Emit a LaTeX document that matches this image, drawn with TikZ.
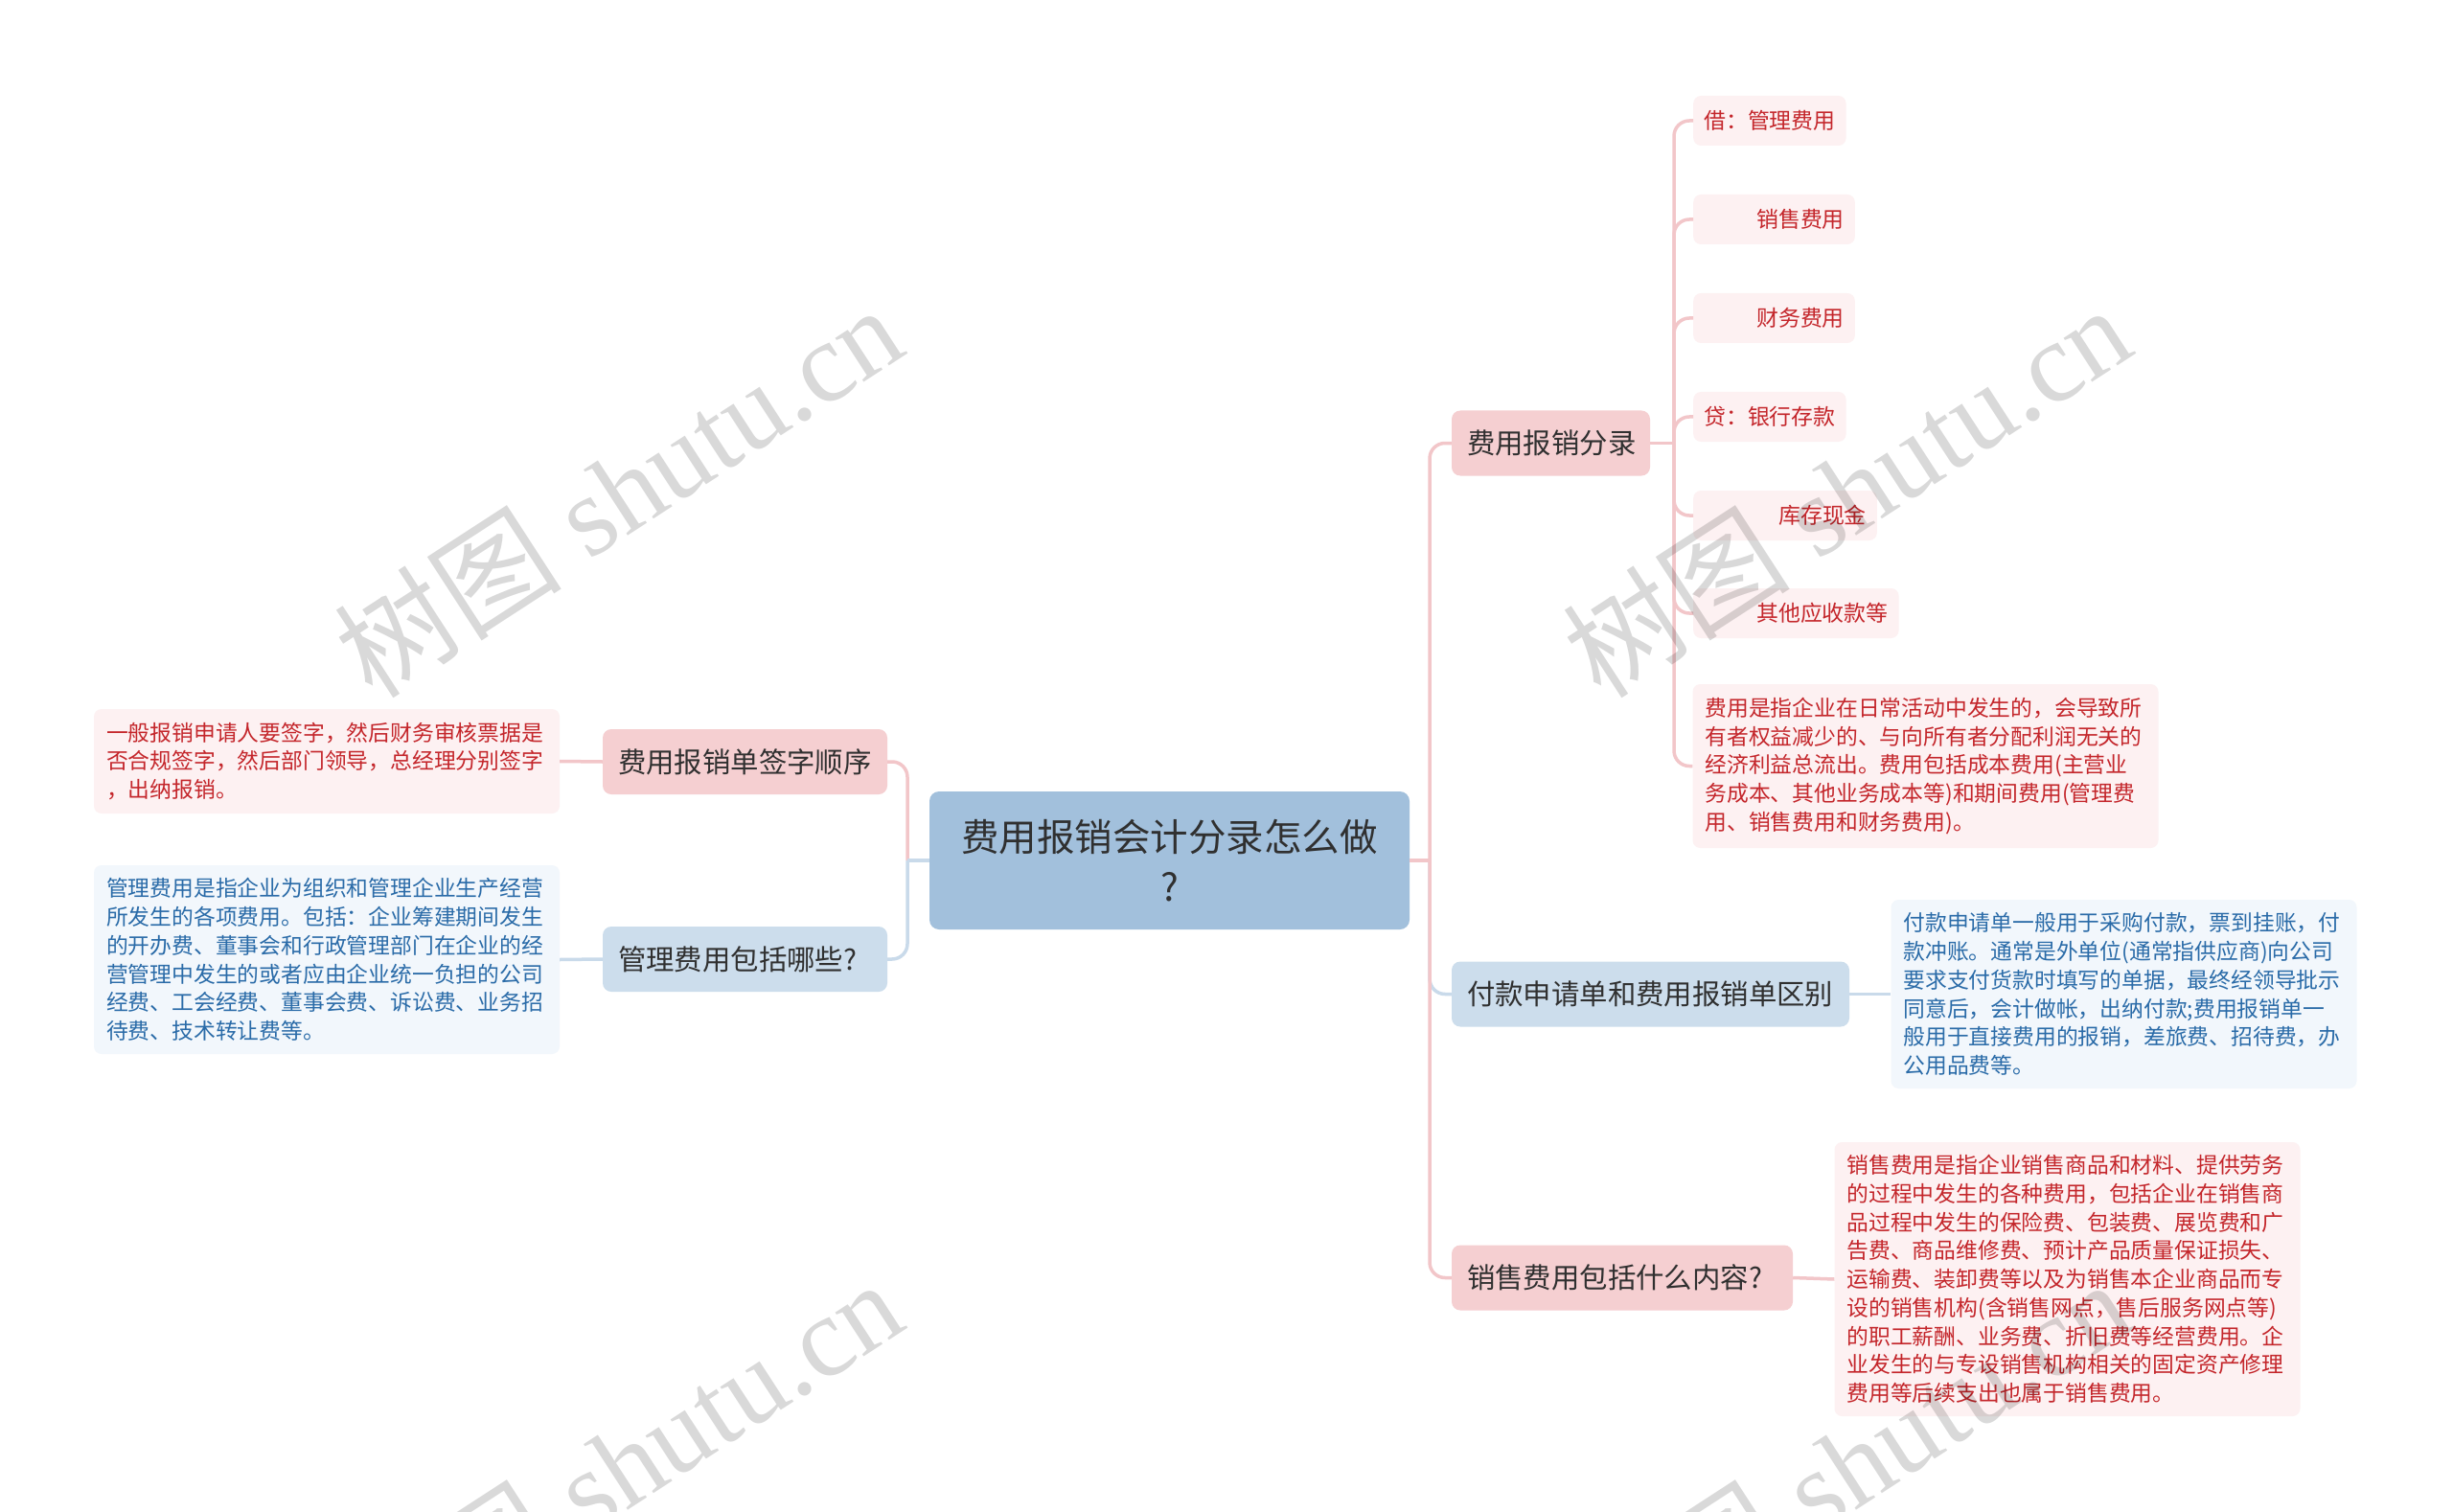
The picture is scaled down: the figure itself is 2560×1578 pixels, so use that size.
\documentclass[tikz,border=0pt]{standalone}
\usepackage{fontspec}
\setmainfont{Noto Sans CJK SC}
\newfontfamily\wmserif{Liberation Serif}
\newfontfamily\wmcjk{Noto Sans CJK SC}
\definecolor{rootfill}{HTML}{A2C0DC}
\definecolor{pinkfill}{HTML}{F5CFD1}
\definecolor{bluefill}{HTML}{CCDDEC}
\definecolor{leafpink}{HTML}{FDF1F2}
\definecolor{leafblue}{HTML}{F2F7FC}
\definecolor{redtext}{HTML}{C4262B}
\definecolor{bluetext}{HTML}{2A6BA8}
\definecolor{pinkline}{HTML}{F2C6C9}
\definecolor{blueline}{HTML}{C9DAEA}
\definecolor{textdark}{HTML}{303030}
\tikzset{
  rootbox/.style={rectangle, rounded corners=10pt, fill=rootfill, text=textdark,
    font=\fontsize{39.5}{52}\selectfont, align=center, minimum width=501pt,
    minimum height=144pt, inner sep=0pt},
  lvlbox/.style={rectangle, rounded corners=9pt, text=textdark,
    font=\fontsize{29.4}{36}\selectfont, align=left, inner xsep=16pt,
    inner ysep=0pt, minimum height=68pt},
  shortleaf/.style={rectangle, rounded corners=8pt, fill=leafpink, text=redtext,
    font=\fontsize{22.9}{28}\selectfont, inner xsep=11pt, inner ysep=0pt,
    minimum height=52pt, anchor=west},
  longleaf/.style={rectangle, rounded corners=8pt, align=left, text width=460pt,
    inner xsep=13pt, inner ysep=0pt, font=\fontsize{22.8}{29.75}\selectfont},
  redleaf/.style={longleaf, fill=leafpink, text=redtext},
  blueleaf/.style={longleaf, fill=leafblue, text=bluetext},
  pinkconn/.style={draw=pinkline, line width=3.5pt},
  blueconn/.style={draw=blueline, line width=3.5pt},
  watermark/.style={rotate=33, text=black, opacity=0.15, inner sep=0pt}
}
\begin{document}
\begin{tikzpicture}[x=1pt,y=-1pt]
\useasboundingbox[fill=white] (0,0) rectangle (2560,1578);

% central node
\node[rootbox] (root) at (1220.5,898) {费用报销会计分录怎么做\\?};

% level one
\node[lvlbox, fill=pinkfill, text width=265pt] (l1) at (777.5,795) {费用报销单签字顺序};
\node[lvlbox, fill=bluefill, text width=265pt] (l2) at (777.5,1001) {管理费用包括哪些?};
\node[lvlbox, fill=pinkfill, text width=175pt] (r1) at (1618.5,462.5) {费用报销分录};
\node[lvlbox, fill=bluefill, text width=383pt] (r2) at (1722.5,1037.5) {付款申请单和费用报销单区别};
\node[lvlbox, fill=pinkfill, text width=324pt] (r3) at (1693,1333.5) {销售费用包括什么内容?};

% left leaves
\node[redleaf, minimum height=109pt] (ll1) at (341,794.5)
 {一般报销申请人要签字，然后财务审核票据是\\否合规签字，然后部门领导，总经理分别签字\\，出纳报销。};
\node[blueleaf, minimum height=197pt] (ll2) at (341,1001.5)
 {管理费用是指企业为组织和管理企业生产经营\\所发生的各项费用。包括：企业筹建期间发生\\的开办费、董事会和行政管理部门在企业的经\\营管理中发生的或者应由企业统一负担的公司\\经费、工会经费、董事会费、诉讼费、业务招\\待费、技术转让费等。};

% leaves of r1
\node[shortleaf] (a1) at (1767,126) {借：管理费用};
\node[shortleaf] (a2) at (1767,229) {\hspace*{55pt}销售费用};
\node[shortleaf] (a3) at (1767,332) {\hspace*{55pt}财务费用};
\node[shortleaf] (a4) at (1767,435) {贷：银行存款};
\node[shortleaf] (a5) at (1767,538) {\hspace*{78pt}库存现金};
\node[shortleaf] (a6) at (1767,640) {\hspace*{55pt}其他应收款等};
\node[redleaf, minimum height=171pt] (a7) at (2009.5,799.5)
 {费用是指企业在日常活动中发生的，会导致所\\有者权益减少的、与向所有者分配利润无关的\\经济利益总流出。费用包括成本费用(主营业\\务成本、其他业务成本等)和期间费用(管理费\\用、销售费用和财务费用)。};

% leaf of r2
\node[blueleaf, minimum height=197pt] (b2) at (2216.5,1037.5)
 {付款申请单一般用于采购付款，票到挂账，付\\款冲账。通常是外单位(通常指供应商)向公司\\要求支付货款时填写的单据，最终经领导批示\\同意后，会计做帐，出纳付款;费用报销单一\\般用于直接费用的报销，差旅费、招待费，办\\公用品费等。};

% leaf of r3
\node[redleaf, minimum height=286pt] (b3) at (2157.5,1335)
 {销售费用是指企业销售商品和材料、提供劳务\\的过程中发生的各种费用，包括企业在销售商\\品过程中发生的保险费、包装费、展览费和广\\告费、商品维修费、预计产品质量保证损失、\\运输费、装卸费等以及为销售本企业商品而专\\设的销售机构(含销售网点，售后服务网点等)\\的职工薪酬、业务费、折旧费等经营费用。企\\业发生的与专设销售机构相关的固定资产修理\\费用等后续支出也属于销售费用。};

% junction coordinates
\coordinate (rj) at (1492,898);
\coordinate (lj) at (947,898);
\coordinate (aj) at (1747,462.5);

% right side connectors
\draw[blueconn, rounded corners=16pt] (rj) -- (rj |- r2.west) -- (r2.west);
\draw[pinkconn] (root.east) -- (rj);
\draw[pinkconn, rounded corners=16pt] (rj) -- (rj |- r1.west) -- (r1.west);
\draw[pinkconn, rounded corners=16pt] (rj) -- (rj |- r3.west) -- (r3.west);
% left side connectors
\draw[pinkconn, rounded corners=16pt] (lj) -- (lj |- l1.east) -- (l1.east);
\draw[blueconn] (root.west) -- (lj);
\draw[blueconn, rounded corners=16pt] (lj) -- (lj |- l2.east) -- (l2.east);
% leaf connectors
\draw[pinkconn] (l1.west) -- (ll1.east);
\draw[blueconn] (l2.west) -- (ll2.east);
\draw[blueconn] (r2.east) -- (b2.west);
\draw[pinkconn] (r3.east) -- (b3.west);
\draw[pinkconn] (r1.east) -- (aj);
\foreach \n in {a1,a2,a3,a4,a5,a6,a7}{
  \draw[pinkconn, rounded corners=16pt] (aj) -- (aj |- \n.west) -- (\n.west);
}

% watermarks
\foreach \wx/\wy [count=\i] in {645/512, 1927/512, 645/1529, 1927/1529}{
  \node[watermark] (wm\i) at (\wx,\wy)
    {\fontsize{119}{119}\selectfont\wmcjk 树图\wmserif\ shutu.cn};
}
\end{tikzpicture}
\end{document}
